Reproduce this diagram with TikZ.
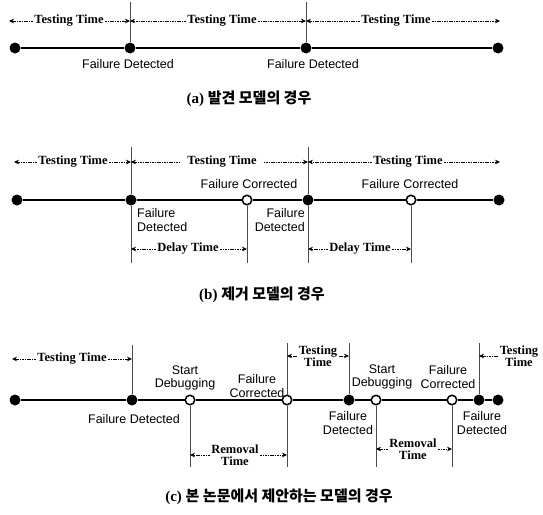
\documentclass[tikz,border=0pt]{standalone}
\usepackage{fontspec}
\setmainfont{Liberation Serif}
\newfontfamily\lsans{Liberation Sans}
\newfontfamily\krfont{Noto Sans CJK KR}
\usetikzlibrary{arrows.meta}
\begin{document}
\begin{tikzpicture}[x=1pt,y=-1pt,
  tl/.style={line width=2.4pt},
  vl/.style={line width=0.8pt,black!70},
  fdot/.style={circle,fill=black,inner sep=0pt,minimum size=11pt},
  hdot/.style={circle,draw=black,fill=white,line width=1.5pt,inner sep=0pt,minimum size=9.5pt},
  harr/.style={line width=0.7pt,dash pattern=on 1.6pt off 0.8pt,-{Stealth[length=5pt,width=4.6pt]}},
  ttxt/.style={font=\fontsize{12.5}{11.5}\selectfont\bfseries,inner sep=1.5pt,align=center},
  lab/.style={font=\lsans\fontsize{12.5}{13.5}\selectfont,inner sep=0pt},
  captxt/.style={font=\fontsize{15}{15}\selectfont\bfseries,inner sep=0pt}
]
\useasboundingbox (0,0) rectangle (543,514);

% ---------------- (a) ----------------
\node[fdot] (a0) at (15,48) {};
\node[fdot] (a1) at (130,48) {};
\node[fdot] (a2) at (306,48) {};
\node[fdot] (a3) at (498,48) {};
\draw[tl] (a0) -- (a1) -- (a2) -- (a3);
\coordinate (a1t) at (130,2);
\coordinate (a2t) at (306,2);
\draw[vl] (a1t) -- (a1);
\draw[vl] (a2t) -- (a2);
\coordinate (A0) at (9,21);
\coordinate (A1) at (130,21);
\coordinate (A2) at (306,21);
\coordinate (A3) at (500,21);
\node[ttxt] (ta1) at (69,21) {Testing Time};
\node[ttxt] (ta2) at (222,21) {Testing Time};
\node[ttxt] (ta3) at (396,21) {Testing Time};
\draw[harr] (ta1) -- (A0); \draw[harr] (ta1) -- (A1);
\draw[harr] (ta2) -- (A1); \draw[harr] (ta2) -- (A2);
\draw[harr] (ta3) -- (A2); \draw[harr] (ta3) -- (A3);
\node[lab] (fa1) at (128,64) {Failure Detected};
\node[lab] (fa2) at (313,64) {Failure Detected};
\node[captxt] (capa) at (249,99) {(a) {\krfont 발견 모델의 경우}};

% ---------------- (b) ----------------
\node[fdot] (b0) at (17,200) {};
\node[fdot] (b1) at (131,200) {};
\node[hdot] (b2) at (247,200) {};
\node[fdot] (b3) at (308,200) {};
\node[hdot] (b4) at (411,200) {};
\node[fdot] (b5) at (499,200) {};
\draw[tl] (b0) -- (b1) -- (b2) -- (b3) -- (b4) -- (b5);
\coordinate (b1t) at (131,147); \coordinate (b1b) at (131,263);
\coordinate (b3t) at (308,147); \coordinate (b3b) at (308,263);
\coordinate (b2b) at (247,263); \coordinate (b4b) at (411,263);
\draw[vl] (b1t) -- (b1) -- (b1b);
\draw[vl] (b3t) -- (b3) -- (b3b);
\draw[vl] (b2) -- (b2b);
\draw[vl] (b4) -- (b4b);
\coordinate (B0) at (14,162);
\coordinate (B1) at (131,162);
\coordinate (B2) at (308,162);
\coordinate (B3) at (500,162);
\node[ttxt] (tb1) at (73,162) {Testing Time};
\node[ttxt,inner xsep=7pt] (tb2) at (222,162) {Testing Time};
\node[ttxt] (tb3) at (408,162) {Testing Time};
\draw[harr] (tb1) -- (B0); \draw[harr] (tb1) -- (B1);
\draw[harr] (tb2) -- (B1); \draw[harr] (tb2) -- (B2);
\draw[harr] (tb3) -- (B2); \draw[harr] (tb3) -- (B3);
\node[lab] (fcb1) at (249,184) {Failure Corrected};
\node[lab] (fcb2) at (410,184) {Failure Corrected};
\node[lab,align=left,anchor=west] (fdb1) at (137,220) {Failure\\Detected};
\node[lab,align=right,anchor=east] (fdb2) at (305,220) {Failure\\Detected};
\coordinate (D1) at (131,249);
\coordinate (D2) at (247,249);
\coordinate (D3) at (308,249);
\coordinate (D4) at (411,249);
\node[ttxt] (db1) at (188,249) {Delay Time};
\node[ttxt] (db2) at (360,249) {Delay Time};
\draw[harr] (db1) -- (D1); \draw[harr] (db1) -- (D2);
\draw[harr] (db2) -- (D3); \draw[harr] (db2) -- (D4);
\node[captxt] (capb) at (262,295) {(b) {\krfont 제거 모델의 경우}};

% ---------------- (c) ----------------
\node[fdot] (c0) at (15,400) {};
\node[fdot] (c1) at (132,400) {};
\node[hdot] (c2) at (190,400) {};
\node[hdot] (c3) at (287,400) {};
\node[fdot] (c4) at (349,400) {};
\node[hdot] (c5) at (376,400) {};
\node[hdot] (c6) at (452,400) {};
\node[fdot] (c7) at (479,400) {};
\node[fdot] (c8) at (498,400) {};
\draw[tl] (c0) -- (c1) -- (c2) -- (c3) -- (c4) -- (c5) -- (c6) -- (c7) -- (c8);
\coordinate (c1t) at (132,345);
\coordinate (c3t) at (287,343); \coordinate (c3b) at (287,467);
\coordinate (c4t) at (349,343);
\coordinate (c7t) at (479,343);
\coordinate (c2b) at (190,467);
\coordinate (c5b) at (376,467);
\coordinate (c6b) at (452,467);
\draw[vl] (c1t) -- (c1);
\draw[vl] (c3t) -- (c3);
\draw[vl] (c3) -- (c3b);
\draw[vl] (c4t) -- (c4);
\draw[vl] (c7t) -- (c7);
\draw[vl] (c2) -- (c2b);
\draw[vl] (c5) -- (c5b);
\draw[vl] (c6) -- (c6b);
\coordinate (C0) at (12,359);
\coordinate (C1) at (132,359);
\coordinate (C2) at (287,356);
\coordinate (C3) at (349,356);
\coordinate (C4) at (479,356);
\node[ttxt] (tc1) at (72,359) {Testing Time};
\node[ttxt] (tc2) at (318,356) {Testing\\Time};
\node[ttxt] (tc3) at (519,356) {Testing\\Time};
\draw[harr] (tc1) -- (C0); \draw[harr] (tc1) -- (C1);
\draw[harr] (tc2) -- (C2); \draw[harr] (tc2) -- (C3);
\draw[harr] (tc3) -- (C4);
\node[lab,align=center] (sd1) at (185,378) {Start\\Debugging};
\node[lab,align=center] (fc1) at (257,386) {Failure\\Corrected};
\node[lab,align=center] (sd2) at (382,377) {Start\\Debugging};
\node[lab,align=center] (fc2) at (448,377) {Failure\\Corrected};
\node[lab] (fd1) at (134,419) {Failure Detected};
\node[lab,align=center] (fd2) at (348,423) {Failure\\Detected};
\node[lab,align=center] (fd3) at (482,423) {Failure\\Detected};
\coordinate (R1) at (190,455);
\coordinate (R2) at (287,455);
\coordinate (R3) at (376,449);
\coordinate (R4) at (452,449);
\node[ttxt] (rm1) at (235,455) {Removal\\Time};
\node[ttxt] (rm2) at (413,449) {Removal\\Time};
\draw[harr] (rm1) -- (R1); \draw[harr] (rm1) -- (R2);
\draw[harr] (rm2) -- (R3); \draw[harr] (rm2) -- (R4);
\node[captxt] (capc) at (279,497) {(c) {\krfont 본 논문에서 제안하는 모델의 경우}};
\end{tikzpicture}
\end{document}
